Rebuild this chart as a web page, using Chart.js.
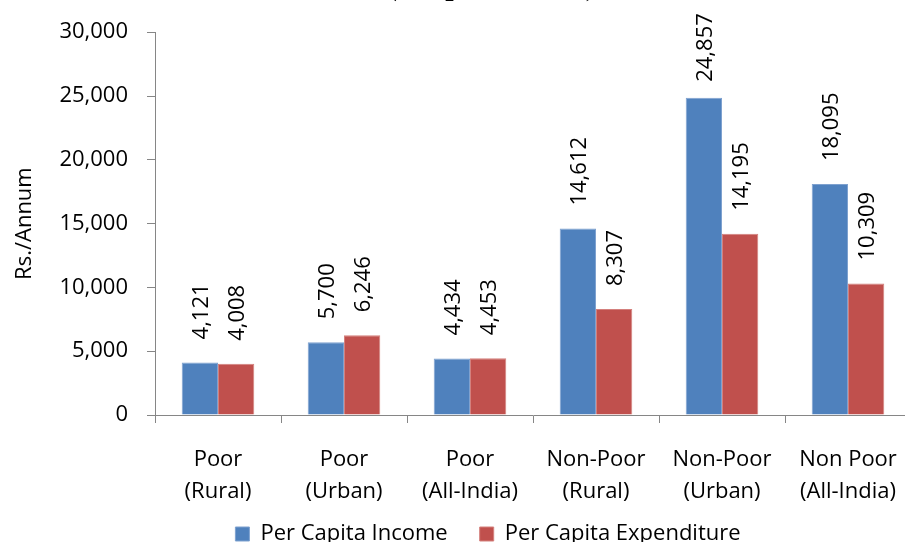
<!DOCTYPE html>
<html>
<head>
<meta charset="utf-8">
<script src="https://cdn.jsdelivr.net/npm/chart.js@4/dist/chart.umd.min.js"></script>
<style>
    html, body { margin: 0; padding: 0; background: #fff; }
    #wrap { position: relative; width: 905px; height: 542px; overflow: hidden; }
    #chartTitle {
        position: absolute; top: -30px; left: 387px;
        font: bold 30px "Liberation Serif", "Times New Roman", serif;
        line-height: 30px; white-space: nowrap; color: #000;
    }
    #barChart { position: absolute; left: 0; top: 0; }
</style>
</head>
<body>
<div id="wrap">
    <canvas id="barChart" width="976" height="577"></canvas>
    <div id="chartTitle">(Rs. per annum)</div>
</div>
<script>
// Chart data
const categories = [
    ['Poor', '(Rural)'],
    ['Poor', '(Urban)'],
    ['Poor', '(All-India)'],
    ['Non-Poor', '(Rural)'],
    ['Non-Poor', '(Urban)'],
    ['Non Poor', '(All-India)']
];
const incomeValues = [4121, 5700, 4434, 14612, 24857, 18095];
const expenditureValues = [4008, 6246, 4453, 8307, 14195, 10309];
const seriesNames = ['Per Capita Income', 'Per Capita Expenditure'];
const yAxisTitle = 'Rs./Annum';
const yMin = 0;
const yMax = 30000;
const yStep = 5000;

const FONT = '"Open Sans", sans-serif';
const AXIS_GREY = '#868686';

// Rotated value labels above each bar
const barLabels = {
    id: 'barLabels',
    afterDatasetsDraw(chart) {
        const ctx = chart.ctx;
        const limit = chart.chartArea.top - 19;
        ctx.save();
        ctx.font = '22px ' + FONT;
        ctx.fillStyle = '#000';
        ctx.textAlign = 'left';
        ctx.textBaseline = 'middle';
        chart.data.datasets.forEach((ds, di) => {
            chart.getDatasetMeta(di).data.forEach((bar, i) => {
                const text = ds.data[i].toLocaleString('en-US');
                const w = ctx.measureText(text).width;
                let bottom = bar.y - 23;
                if (bottom - w < limit) bottom = limit + w;
                ctx.save();
                ctx.translate(bar.x + 2, bottom);
                ctx.rotate(-Math.PI / 2);
                ctx.fillText(text, 0, 0);
                ctx.restore();
            });
        });
        ctx.restore();
    }
};

// Pull the legend up a little, closer to the category labels
const legendShift = {
    id: 'legendShift',
    afterLayout(chart) {
        if (chart.legend) {
            chart.legend.top -= 22;
            chart.legend.bottom -= 22;
        }
    }
};

const chart = new Chart(document.getElementById('barChart'), {
    type: 'bar',
    data: {
        labels: categories,
        datasets: [{
            label: seriesNames[0],
            data: incomeValues,
            backgroundColor: '#4F81BD',
            borderColor: '#7EA1CF',
            borderWidth: 1,
            barPercentage: 1,
            categoryPercentage: 0.576
        }, {
            label: seriesNames[1],
            data: expenditureValues,
            backgroundColor: '#C0504D',
            borderColor: '#D4807D',
            borderWidth: 1,
            barPercentage: 1,
            categoryPercentage: 0.576
        }]
    },
    options: {
        responsive: false,
        devicePixelRatio: 1,
        animation: false,
        layout: {
            padding: { left: 0, right: 0, top: 32, bottom: 0 }
        },
        plugins: {
            legend: {
                display: true,
                position: 'bottom',
                labels: {
                    color: '#000',
                    boxWidth: 14,
                    boxHeight: 14,
                    padding: 32,
                    font: { family: FONT, size: 22 }
                }
            },
            tooltip: { enabled: false },
            title: { display: false }
        },
        scales: {
            x: {
                grid: {
                    display: true,
                    drawOnChartArea: false,
                    drawTicks: true,
                    tickLength: 8,
                    color: AXIS_GREY,
                    offset: true
                },
                border: { display: true, color: AXIS_GREY, width: 1 },
                ticks: {
                    color: '#000',
                    maxRotation: 0,
                    autoSkip: false,
                    padding: 21,
                    font: { family: FONT, size: 22, lineHeight: 1.45 }
                },
                afterFit(scale) { scale.height = 98; }
            },
            y: {
                min: yMin,
                max: yMax,
                grid: {
                    display: true,
                    drawOnChartArea: false,
                    drawTicks: true,
                    tickLength: 8,
                    color: AXIS_GREY
                },
                border: { display: true, color: AXIS_GREY, width: 1 },
                ticks: {
                    stepSize: yStep,
                    color: '#000',
                    padding: 19,
                    font: { family: FONT, size: 22 },
                    callback: function (value) {
                        return value.toLocaleString('en-US');
                    }
                },
                title: {
                    display: true,
                    text: yAxisTitle,
                    color: '#000',
                    padding: { top: 12, bottom: 0 },
                    font: { family: FONT, size: 22 }
                },
                afterFit(scale) { scale.width = 155; }
            },
            // empty axis that keeps room on the right, as in the cropped original
            yRight: {
                position: 'right',
                display: true,
                grid: { display: false },
                border: { display: false },
                ticks: { display: false },
                afterFit(scale) { scale.width = 65; }
            }
        }
    },
    plugins: [barLabels, legendShift]
});
</script>
</body>
</html>
